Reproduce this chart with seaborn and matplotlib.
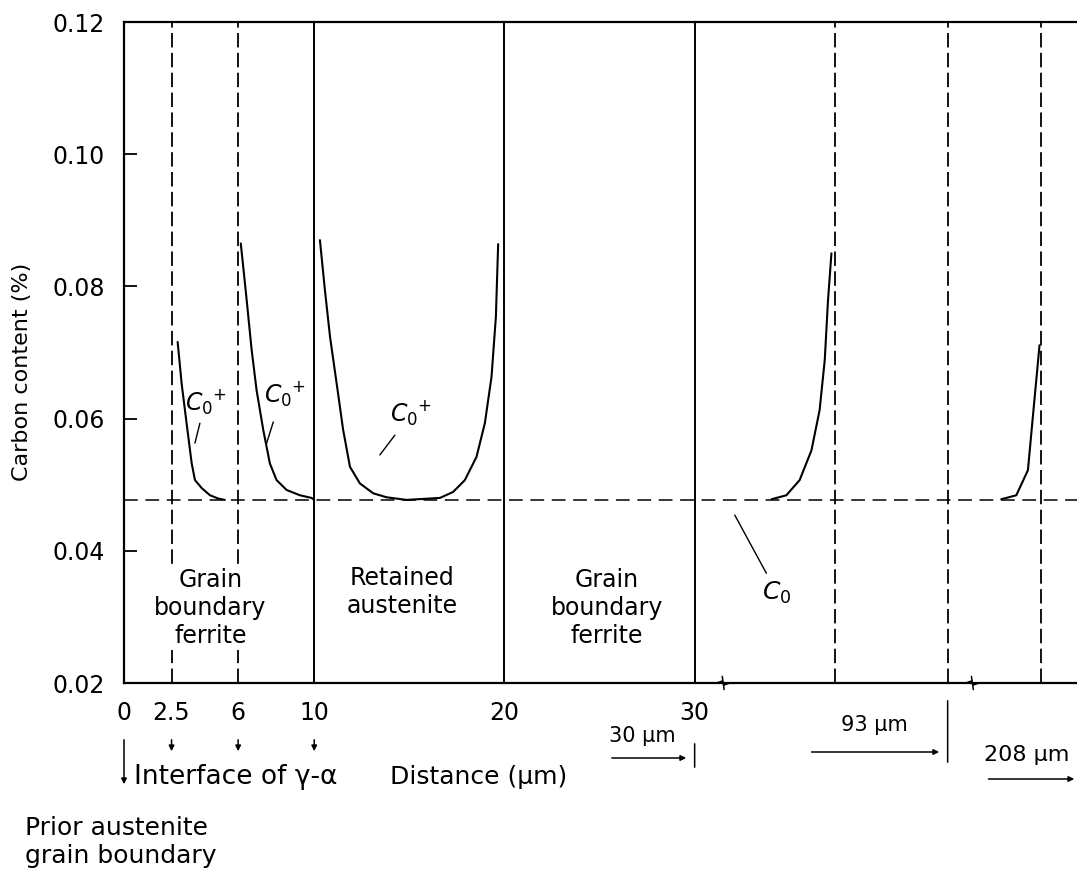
import pandas as pd
import matplotlib
matplotlib.use('Agg')
import matplotlib.pyplot as plt
import seaborn as sns

sns.set_theme(style='white')
plt.rcParams['font.family'] = ['DejaVu Sans']
plt.rcParams['text.color'] = 'black'
plt.rcParams['axes.labelcolor'] = 'black'
plt.rcParams['xtick.color'] = 'black'
plt.rcParams['ytick.color'] = 'black'

# equilibrium carbon level (%)
C0 = 0.0477

# carbon profiles: distance (um) / carbon (%)
ferrite_a_x = [2.82, 3.03, 3.29, 3.56, 3.73, 4.08, 4.52, 4.96, 5.30]
ferrite_a_c = [0.0716, 0.0653, 0.0593, 0.0532, 0.0507, 0.0495, 0.0484, 0.0479, 0.0477]

ferrite_b_x = [6.14, 6.45, 6.71, 6.97, 7.32, 7.67, 8.02, 8.55, 9.25, 9.86, 10.0]
ferrite_b_c = [0.0865, 0.0779, 0.0704, 0.0643, 0.0583, 0.0532, 0.0507, 0.0492, 0.0484, 0.0480, 0.0477]

austenite_x = [10.30, 10.56, 10.83, 11.18, 11.52, 11.88, 12.40, 13.10, 13.80, 14.85,
               16.61, 17.30, 17.92, 18.53, 18.97, 19.32, 19.55, 19.67]
austenite_c = [0.0870, 0.0795, 0.0724, 0.0653, 0.0583, 0.0527, 0.0502, 0.0487, 0.0481, 0.0477,
               0.0480, 0.0489, 0.0507, 0.0542, 0.0593, 0.0663, 0.0754, 0.0864]

far_a_x = [34.04, 34.82, 35.52, 36.14, 36.57, 36.84, 37.01, 37.19]
far_a_c = [0.0478, 0.0484, 0.0507, 0.0552, 0.0613, 0.0689, 0.0779, 0.0850]

far_b_x = [46.12, 46.91, 47.52, 47.78, 48.13]
far_b_c = [0.0478, 0.0484, 0.0522, 0.0603, 0.0711]

solid_bounds = [10, 20, 30]
dashed_bounds = [2.5, 6, 37.4, 43.3, 48.2]
axis_breaks = [31.5, 44.6]

x_ticks = [0, 2.5, 6, 10, 20, 30]
x_labels = ['0', '2.5', '6', '10', '20', '30']
y_ticks = [0.02, 0.04, 0.06, 0.08, 0.10, 0.12]

profiles = pd.concat([
    pd.DataFrame({'distance': ferrite_a_x, 'carbon': ferrite_a_c, 'seg': 'fa'}),
    pd.DataFrame({'distance': ferrite_b_x, 'carbon': ferrite_b_c, 'seg': 'fb'}),
    pd.DataFrame({'distance': austenite_x, 'carbon': austenite_c, 'seg': 'au'}),
    pd.DataFrame({'distance': far_a_x, 'carbon': far_a_c, 'seg': 'xa'}),
    pd.DataFrame({'distance': far_b_x, 'carbon': far_b_c, 'seg': 'xb'}),
], ignore_index=True)

W, H = 1077, 871
fig = plt.figure(figsize=(W / 100, H / 100), dpi=100)
ax = fig.add_axes([124 / W, 1 - 683 / H, 1 - 124 / W, (683 - 22) / H])

sns.lineplot(data=profiles, x='distance', y='carbon', units='seg', estimator=None,
             sort=False, color='black', lw=1.5, ax=ax, solid_joinstyle='round')

ax.axhline(C0, color='black', lw=1.1, ls=(0, (9, 5)))
for b in solid_bounds:
    ax.axvline(b, color='black', lw=1.4)
for b in dashed_bounds:
    ax.axvline(b, color='black', lw=1.3, ls=(0, (8, 3)))

ax.set_xlim(0, 50.1)
ax.set_ylim(0.02, 0.12)
ax.set_xticks(x_ticks)
ax.set_xticklabels(x_labels)
ax.set_yticks(y_ticks)
ax.set_yticklabels([f'{v:.2f}' for v in y_ticks])
ax.tick_params(axis='x', length=0, pad=13, labelsize=17)
ax.tick_params(axis='y', direction='in', length=9, width=1.3, pad=14, labelsize=17,
               left=True)
ax.set_xlabel('')
ax.set_ylabel('Carbon content (%)', fontsize=16)
ax.yaxis.set_label_coords(-0.097, 0.47)
for s in ['left', 'bottom', 'top']:
    ax.spines[s].set_color('black')
    ax.spines[s].set_linewidth(1.6)
ax.spines['right'].set_visible(False)

# axis break marks on the bottom spine
for b in axis_breaks:
    ax.plot([b - 0.35, b - 0.05, b + 0.05, b + 0.35], [0.0200, 0.0203, 0.0197, 0.0200],
            color='black', lw=1.1, clip_on=False)
    ax.plot([b - 0.05, b + 0.05], [0.0210, 0.0190], color='black', lw=1.1, clip_on=False)

# region names
reg_kw = dict(ha='center', va='center', fontsize=17, linespacing=1.22, zorder=5,
              bbox=dict(facecolor='white', edgecolor='none', pad=1))
ax.text(4.55, 0.0313, 'Grain\nboundary\nferrite', **reg_kw)
ax.text(14.6, 0.0338, 'Retained\naustenite', **reg_kw)
ax.text(25.4, 0.0313, 'Grain\nboundary\nferrite', **reg_kw)

# C0 labels with leader lines
lab = r'$C_0{}^{+}$'
ax.text(4.30, 0.0625, lab, ha='center', va='center', fontsize=17)
ax.plot([3.99, 3.73], [0.0593, 0.0563], color='black', lw=1)
ax.text(8.45, 0.0636, lab, ha='center', va='center', fontsize=17)
ax.plot([7.85, 7.50], [0.0595, 0.0563], color='black', lw=1)
ax.text(15.1, 0.0608, lab, ha='center', va='center', fontsize=17)
ax.plot([14.24, 13.45], [0.0575, 0.0545], color='black', lw=1)
ax.text(34.3, 0.0336, r'$C_0$', ha='center', va='center', fontsize=18)
ax.plot([32.11, 33.77], [0.0454, 0.0366], color='black', lw=1)

# annotations under the axis (x in data, y in figure pixels)
fy = lambda y: H - y
pix = ('data', 'figure pixels')
arr = dict(arrowstyle='-|>', color='black', lw=1.1, mutation_scale=8)
for xv in [2.5, 6, 10]:
    ax.annotate('', xy=(xv, fy(754)), xytext=(xv, fy(737)),
                xycoords=pix, textcoords=pix, arrowprops=arr)
ax.annotate('', xy=(0, fy(787)), xytext=(0, fy(737)),
            xycoords=pix, textcoords=pix, arrowprops=arr, annotation_clip=False)

tkw = dict(xycoords=pix, va='center', annotation_clip=False)
ax.annotate('Interface of γ-α', xy=(0.55, fy(777)), ha='left', fontsize=19, **tkw)
ax.annotate('Distance (µm)', xy=(14.0, fy(777)), ha='left', fontsize=18, **tkw)
ax.annotate('30 µm', xy=(25.5, fy(736)), ha='left', fontsize=15, **tkw)
ax.annotate('93 µm', xy=(37.7, fy(725)), ha='left', fontsize=15, **tkw)
ax.annotate('208 µm', xy=(45.2, fy(755)), ha='left', fontsize=16, **tkw)

for x0, x1, yy in [(25.5, 29.7, 758), (36.0, 43.0, 752), (45.3, 50.1, 779)]:
    ax.annotate('', xy=(x1, fy(yy)), xytext=(x0, fy(yy)),
                xycoords=pix, textcoords=pix, arrowprops=arr, annotation_clip=False)
for xb, y0, y1 in [(30, 741, 770), (43.3, 698, 765)]:
    ax.annotate('', xy=(xb, fy(y1)), xytext=(xb, fy(y0)),
                xycoords=pix, textcoords=pix,
                arrowprops=dict(arrowstyle='-', color='black', lw=1.1), annotation_clip=False)

fig.text(25 / W, 1 - 842 / H, 'Prior austenite\ngrain boundary', ha='left', va='center',
         fontsize=18, linespacing=1.25)

fig.savefig('out.png', dpi=100)
